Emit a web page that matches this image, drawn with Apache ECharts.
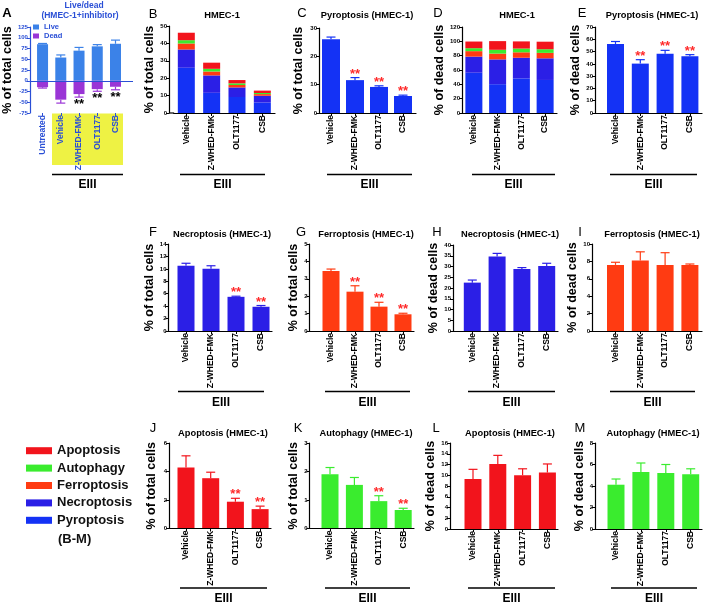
<!DOCTYPE html>
<html><head><meta charset="utf-8">
<script src="https://cdn.jsdelivr.net/npm/echarts@6/dist/echarts.min.js"></script>
<style>html,body{margin:0;padding:0;background:#fff}#c{width:708px;height:603px}</style>
</head><body><div id="c"></div>
<script>
// ---------------- DATA ----------------
const groupsA = ['Untreated', 'Vehicle', 'Z-WHED-FMK', 'OLT1177', 'CSB'];
const groups = ['Vehicle', 'Z-WHED-FMK', 'OLT1177', 'CSB'];

// Panel A: live/dead (% of total cells)
const liveA = [85, 54, 70, 80, 86];
const liveErrA = [1.7, 6, 7.5, 4, 8.5];
const deadA = [-15, -44, -31, -19.5, -14];
const deadErrA = [2, 8, 7, 5, 7];
const sigA = ['', '', '**', '**', '**'];

// % of total cells
const pyroTotal = [26, 11.6, 9.2, 6.0];
const pyroTotalErr = [0.8, 0.9, 0.4, 0.3];
const necroTotal = [10.5, 10.0, 5.5, 3.9];
const necroTotalErr = [0.4, 0.5, 0.1, 0.2];
const ferroTotal = [3.45, 2.26, 1.40, 0.96];
const ferroTotalErr = [0.11, 0.34, 0.25, 0.06];
const autoTotal = [1.9, 1.53, 0.96, 0.65];
const autoTotalErr = [0.24, 0.26, 0.19, 0.06];
const apoTotal = [4.28, 3.53, 1.88, 1.36];
const apoTotalErr = [0.82, 0.42, 0.24, 0.21];

// % of dead cells
const pyroDead = [56.2, 40.2, 48.3, 46.1];
const pyroDeadErr = [2.0, 3.2, 2.7, 1.4];
const necroDead = [22.5, 34.6, 28.8, 30.2];
const necroDeadErr = [1.2, 1.5, 0.7, 1.3];
const ferroDead = [7.6, 8.1, 7.6, 7.6];
const ferroDeadErr = [0.3, 1.0, 1.4, 0.1];
const autoDead = [4.12, 5.3, 5.2, 5.1];
const autoDeadErr = [0.53, 0.84, 0.8, 0.5];
const apoDead = [9.3, 12.1, 10.0, 10.5];
const apoDeadErr = [1.8, 1.6, 1.2, 1.6];

// significance marks
const sigC = ['', '**', '**', '**'];
const sigE = ['', '**', '**', '**'];
const sigF = ['', '', '**', '**'];
const sigG = ['', '**', '**', '**'];
const sigJ = ['', '', '**', '**'];
const sigK = ['', '', '**', '**'];

const legendNames = ['Apoptosis', 'Autophagy', 'Ferroptosis', 'Necroptosis', 'Pyroptosis'];

// ---------------- STYLE / LAYOUT ----------------
const FONT = '"Liberation Sans", Arial, Helvetica, sans-serif';
const COL = {apo:'#f2141c', auto:'#3aec2e', ferro:'#ff3b12', necro:'#2b1fe6', pyro:'#1432f5',
             live:'#3b82e8', dead:'#9a35d6', aBlue:'#2a4fd6', star:'#ff2a2a'};
const LAY = {
  A:{axisX:27, first:40, sp:18.75, right:133, top:27, bottom:113, nameX:6},
  B:{axisX:169, first:186, sp:24.7, right:275, top:26, bottom:113, nameX:152},
  C:{axisX:319, first:331, sp:24, right:416, top:28, bottom:113, nameX:299},
  D:{axisX:462, first:473, sp:24.2, right:557, top:27, bottom:113, nameX:440},
  E:{axisX:595, first:615.5, sp:24.8, right:702, top:27, bottom:113, nameX:583},
  F:{axisX:168.5, first:186, sp:25, right:272, top:244, bottom:331, nameX:152.5},
  G:{axisX:309.5, first:331, sp:24, right:414, top:244, bottom:331, nameX:300},
  H:{axisX:453, first:472.3, sp:24.8, right:558, top:245, bottom:331, nameX:438},
  I:{axisX:592, first:615.5, sp:24.8, right:702, top:244, bottom:331, nameX:583},
  J:{axisX:169, first:186, sp:24.7, right:271, top:443, bottom:528.5, nameX:152.5},
  K:{axisX:309.5, first:330, sp:24.4, right:414, top:443, bottom:528.5, nameX:300},
  L:{axisX:450, first:473, sp:24.8, right:558, top:443, bottom:529, nameX:438},
  M:{axisX:595, first:616, sp:24.9, right:702, top:443, bottom:529, nameX:583}
};

const grids = [], xAxes = [], yAxes = [], series = [], graphics = [];

function addPanel(p) {
  const i = grids.length, l = p.lay;
  const idx = p.cats.map((c, k) => k);
  const lc = p.labelColor || '#000', ac = p.axisColor || '#000';
  const labelStyle = {fontSize:8.5, fontWeight:'bold', fontFamily:FONT, color:lc, rotate:90, margin:2};
  let yOffset = 0;
  if (p.category) {
    const left = Math.max(l.axisX, l.first - l.sp / 2);
    yOffset = left - l.axisX;
    grids.push({left:left, top:l.top, width:l.right - left, height:l.bottom - l.top, containLabel:false});
    xAxes.push({type:'category', gridIndex:i, data:p.cats, boundaryGap:true, z:3,
      axisLine:{show:true, onZero:false, lineStyle:{color:'#000', width:1.2}},
      axisTick:{show:true, alignWithLabel:true, length:3, lineStyle:{color:lc, width:1}},
      axisLabel:Object.assign({show:true, interval:0}, labelStyle),
      splitLine:{show:false}});
  } else {
    grids.push({left:l.axisX, top:l.top, width:l.right - l.axisX, height:l.bottom - l.top, containLabel:false});
    xAxes.push({type:'value', gridIndex:i, min:(l.axisX - l.first) / l.sp, max:(l.right - l.first) / l.sp, z:3,
      axisLine:{show:p.xLine !== false, onZero:false, lineStyle:{color:'#000', width:1.2}},
      axisTick:{show:true, customValues:idx, length:3, lineStyle:{color:lc, width:1}},
      axisLabel:Object.assign({show:true, customValues:idx, formatter:v => p.cats[Math.round(v)] || ''}, labelStyle),
      splitLine:{show:false}});
  }
  yAxes.push({type:'value', gridIndex:i, min:p.yMin || 0, max:p.yMax, interval:p.interval, offset:yOffset,
    axisLine:{show:true, onZero:false, lineStyle:{color:ac, width:1.2}},
    axisTick:{show:true, length:3, lineStyle:{color:ac}},
    axisLabel:{fontSize:6, fontWeight:'bold', fontFamily:FONT, color:ac, margin:2},
    splitLine:{show:false},
    name:p.yName, nameLocation:'middle', nameGap:l.axisX - l.nameX - 6,
    nameTextStyle:{fontSize:12.5, fontWeight:'bold', fontFamily:FONT, color:'#000'}});
  return i;
}
function bars(i, name, vals, color, bw, stack, extra) {
  series.push(Object.assign({type:'bar', name:name, xAxisIndex:i, yAxisIndex:i,
    data:vals.map((v, k) => [k, v]), barWidth:bw, stack:stack, itemStyle:{color:color},
    emphasis:{disabled:true}, silent:true}, extra || {}));
}
function stackBars(i, name, vals, color, bw, stack) {
  series.push({type:'bar', name:name, xAxisIndex:i, yAxisIndex:i, data:vals, barWidth:bw, stack:stack,
    itemStyle:{color:color}, emphasis:{disabled:true}, silent:true});
}
function errs(i, vals, err, color, sig, sigColor, neg) {
  series.push({type:'custom', xAxisIndex:i, yAxisIndex:i, z:4, silent:true,
    data:vals.map((v, k) => [k, v, err[k]]),
    renderItem:(params, api) => {
      const k = params.dataIndex;
      const x = api.value(0), v = api.value(1), e = api.value(2);
      const tip = neg ? v - e : v + e;
      const p0 = api.coord([x, v]), p1 = api.coord([x, tip]);
      const ch = [
        {type:'line', shape:{x1:p0[0], y1:p0[1], x2:p1[0], y2:p1[1]}, style:{stroke:color, lineWidth:1.2}},
        {type:'line', shape:{x1:p1[0] - 4.5, y1:p1[1], x2:p1[0] + 4.5, y2:p1[1]}, style:{stroke:color, lineWidth:1.2}}
      ];
      if (sig && sig[k]) {
        ch.push({type:'text', style:{x:p1[0], y:neg ? p1[1] + 1 : p1[1] + 3, text:sig[k], fill:sigColor,
          font:'bold 13px ' + FONT, align:'center', verticalAlign:neg ? 'top' : 'bottom'}});
      }
      return {type:'group', children:ch};
    }});
}
function txt(x, y, s, size, weight, color, align) {
  graphics.push({type:'text', silent:true, style:{x:x, y:y, text:s, fill:color || '#000',
    font:(weight || 'bold') + ' ' + size + 'px ' + FONT, align:align || 'center', verticalAlign:'middle'}});
}
function eiii(x1, x2, yLine, yText) {
  graphics.push({type:'line', silent:true, shape:{x1:x1, y1:yLine, x2:x2, y2:yLine}, style:{stroke:'#000', lineWidth:1.3}});
  txt((x1 + x2) / 2, yText, 'EIII', 12, 'bold', '#000');
}

// ---------------- PANELS ----------------
// A
let i = addPanel({lay:LAY.A, cats:groupsA, yMin:-75, yMax:125, interval:25, yName:'% of total cells',
  axisColor:COL.aBlue, labelColor:COL.aBlue, xLine:false});
bars(i, 'Live', liveA, COL.live, 11, 'a', {markLine:{silent:true, symbol:'none', animation:false,
  data:[{yAxis:0}], label:{show:false}, lineStyle:{color:COL.aBlue, width:1.2, type:'solid'}}});
bars(i, 'Dead', deadA, COL.dead, 11, 'a');
errs(i, liveA, liveErrA, COL.live, null, null, false);
errs(i, deadA, deadErrA, COL.dead, sigA, '#000', true);

// B stacked
i = addPanel({lay:LAY.B, cats:groups, yMax:50, interval:10, yName:'% of total cells', category:true});
stackBars(i, 'Pyroptosis', pyroTotal, COL.pyro, 17, 'b');
stackBars(i, 'Necroptosis', necroTotal, COL.necro, 17, 'b');
stackBars(i, 'Ferroptosis', ferroTotal, COL.ferro, 17, 'b');
stackBars(i, 'Autophagy', autoTotal, COL.auto, 17, 'b');
stackBars(i, 'Apoptosis', apoTotal, COL.apo, 17, 'b');

// C
i = addPanel({lay:LAY.C, cats:groups, yMax:30, interval:10, yName:'% of total cells'});
bars(i, 'Pyroptosis', pyroTotal, COL.pyro, 18);
errs(i, pyroTotal, pyroTotalErr, COL.pyro, sigC, COL.star);

// D stacked
i = addPanel({lay:LAY.D, cats:groups, yMax:120, interval:20, yName:'% of dead cells', category:true});
stackBars(i, 'Pyroptosis', pyroDead, COL.pyro, 17, 'd');
stackBars(i, 'Necroptosis', necroDead, COL.necro, 17, 'd');
stackBars(i, 'Ferroptosis', ferroDead, COL.ferro, 17, 'd');
stackBars(i, 'Autophagy', autoDead, COL.auto, 17, 'd');
stackBars(i, 'Apoptosis', apoDead, COL.apo, 17, 'd');

// E
i = addPanel({lay:LAY.E, cats:groups, yMax:70, interval:10, yName:'% of dead cells'});
bars(i, 'Pyroptosis', pyroDead, COL.pyro, 17);
errs(i, pyroDead, pyroDeadErr, COL.pyro, sigE, COL.star);

// F
i = addPanel({lay:LAY.F, cats:groups, yMax:14, interval:2, yName:'% of total cells'});
bars(i, 'Necroptosis', necroTotal, COL.necro, 17);
errs(i, necroTotal, necroTotalErr, COL.necro, sigF, COL.star);

// G
i = addPanel({lay:LAY.G, cats:groups, yMax:5, interval:1, yName:'% of total cells'});
bars(i, 'Ferroptosis', ferroTotal, COL.ferro, 17);
errs(i, ferroTotal, ferroTotalErr, COL.ferro, sigG, COL.star);

// H
i = addPanel({lay:LAY.H, cats:groups, yMax:40, interval:5, yName:'% of dead cells'});
bars(i, 'Necroptosis', necroDead, COL.necro, 17);
errs(i, necroDead, necroDeadErr, COL.necro);

// I
i = addPanel({lay:LAY.I, cats:groups, yMax:10, interval:2, yName:'% of dead cells'});
bars(i, 'Ferroptosis', ferroDead, COL.ferro, 17);
errs(i, ferroDead, ferroDeadErr, COL.ferro);

// J
i = addPanel({lay:LAY.J, cats:groups, yMax:6, interval:2, yName:'% of total cells'});
bars(i, 'Apoptosis', apoTotal, COL.apo, 17);
errs(i, apoTotal, apoTotalErr, COL.apo, sigJ, COL.star);

// K
i = addPanel({lay:LAY.K, cats:groups, yMax:3, interval:1, yName:'% of total cells'});
bars(i, 'Autophagy', autoTotal, COL.auto, 17);
errs(i, autoTotal, autoTotalErr, COL.auto, sigK, COL.star);

// L
i = addPanel({lay:LAY.L, cats:groups, yMax:16, interval:2, yName:'% of dead cells'});
bars(i, 'Apoptosis', apoDead, COL.apo, 17);
errs(i, apoDead, apoDeadErr, COL.apo);

// M
i = addPanel({lay:LAY.M, cats:groups, yMax:8, interval:2, yName:'% of dead cells'});
bars(i, 'Autophagy', autoDead, COL.auto, 17);
errs(i, autoDead, autoDeadErr, COL.auto);

// ---------------- DECORATION TEXT ----------------
graphics.push({type:'rect', z:-5, silent:true, shape:{x:52, y:113.5, width:71, height:51.5}, style:{fill:'#eef244'}});
graphics.push({type:'line', silent:true, shape:{x1:LAY.B.axisX, y1:LAY.B.bottom, x2:LAY.B.first - LAY.B.sp / 2 + 0.5, y2:LAY.B.bottom}, style:{stroke:'#000', lineWidth:1.2}});
txt(84, 6, 'Live/dead', 8.5, 'bold', COL.aBlue);
txt(80, 16, '(HMEC-1+inhibitor)', 8.5, 'bold', COL.aBlue);

const titles = [
  [222, 15, 'HMEC-1'], [367, 15, 'Pyroptosis (HMEC-1)'], [517, 15, 'HMEC-1'], [652, 15, 'Pyroptosis (HMEC-1)'],
  [222, 234, 'Necroptosis (HMEC-1)'], [366, 234, 'Ferroptosis (HMEC-1)'], [510, 234, 'Necroptosis (HMEC-1)'], [652, 234, 'Ferroptosis (HMEC-1)'],
  [223, 433, 'Apoptosis (HMEC-1)'], [366, 433, 'Autophagy (HMEC-1)'], [510, 433, 'Apoptosis (HMEC-1)'], [653, 433, 'Autophagy (HMEC-1)']
];
titles.forEach(t => txt(t[0], t[1], t[2], 9.3, 'bold', '#000'));

txt(7, 13, 'A', 13, 'bold', '#000');
const letters = [[153,14,'B'],[302,13,'C'],[438,13,'D'],[582,13,'E'],
  [153,232,'F'],[301,232,'G'],[437,232,'H'],[580,232,'I'],
  [153,428,'J'],[298,428,'K'],[436,428,'L'],[580,428,'M']];
letters.forEach(t => txt(t[0], t[1], t[2], 13, 'normal', '#000'));

eiii(52, 123, 174.5, 185);
eiii(180, 265, 174.5, 185); eiii(327, 412, 174.5, 185); eiii(472, 555, 174.5, 185); eiii(610, 697, 174.5, 185);
eiii(178, 264, 391.5, 402.5); eiii(325, 410, 391.5, 402.5); eiii(468, 555, 391.5, 402.5); eiii(610, 695, 391.5, 402.5);
eiii(180, 267, 588, 598.5); eiii(325, 410, 588, 598.5); eiii(468, 555, 588, 598.5); eiii(611, 697, 588, 598.5);

txt(58, 539, '(B-M)', 13, 'bold', '#111', 'left');

// ---------------- CHART ----------------
const chart = echarts.init(document.getElementById('c'), null, {renderer:'canvas'});
chart.setOption({
  animation:false,
  backgroundColor:'#fff',
  textStyle:{fontFamily:FONT},
  legend:[
    {data:['Live', 'Dead'], orient:'vertical', left:33, top:23, itemWidth:6, itemHeight:5, itemGap:1, icon:'rect',
     selectedMode:false, padding:0, textStyle:{fontSize:7.5, fontWeight:'bold', color:COL.aBlue, lineHeight:7, fontFamily:FONT}},
    {data:legendNames, orient:'vertical', left:26, top:444, itemWidth:26, itemHeight:7, itemGap:4, icon:'rect',
     selectedMode:false, padding:0, textStyle:{fontSize:13, fontWeight:'bold', color:'#111', lineHeight:13.4, fontFamily:FONT}}
  ],
  grid:grids, xAxis:xAxes, yAxis:yAxes, series:series, graphic:{elements:graphics}
});
</script></body></html>
